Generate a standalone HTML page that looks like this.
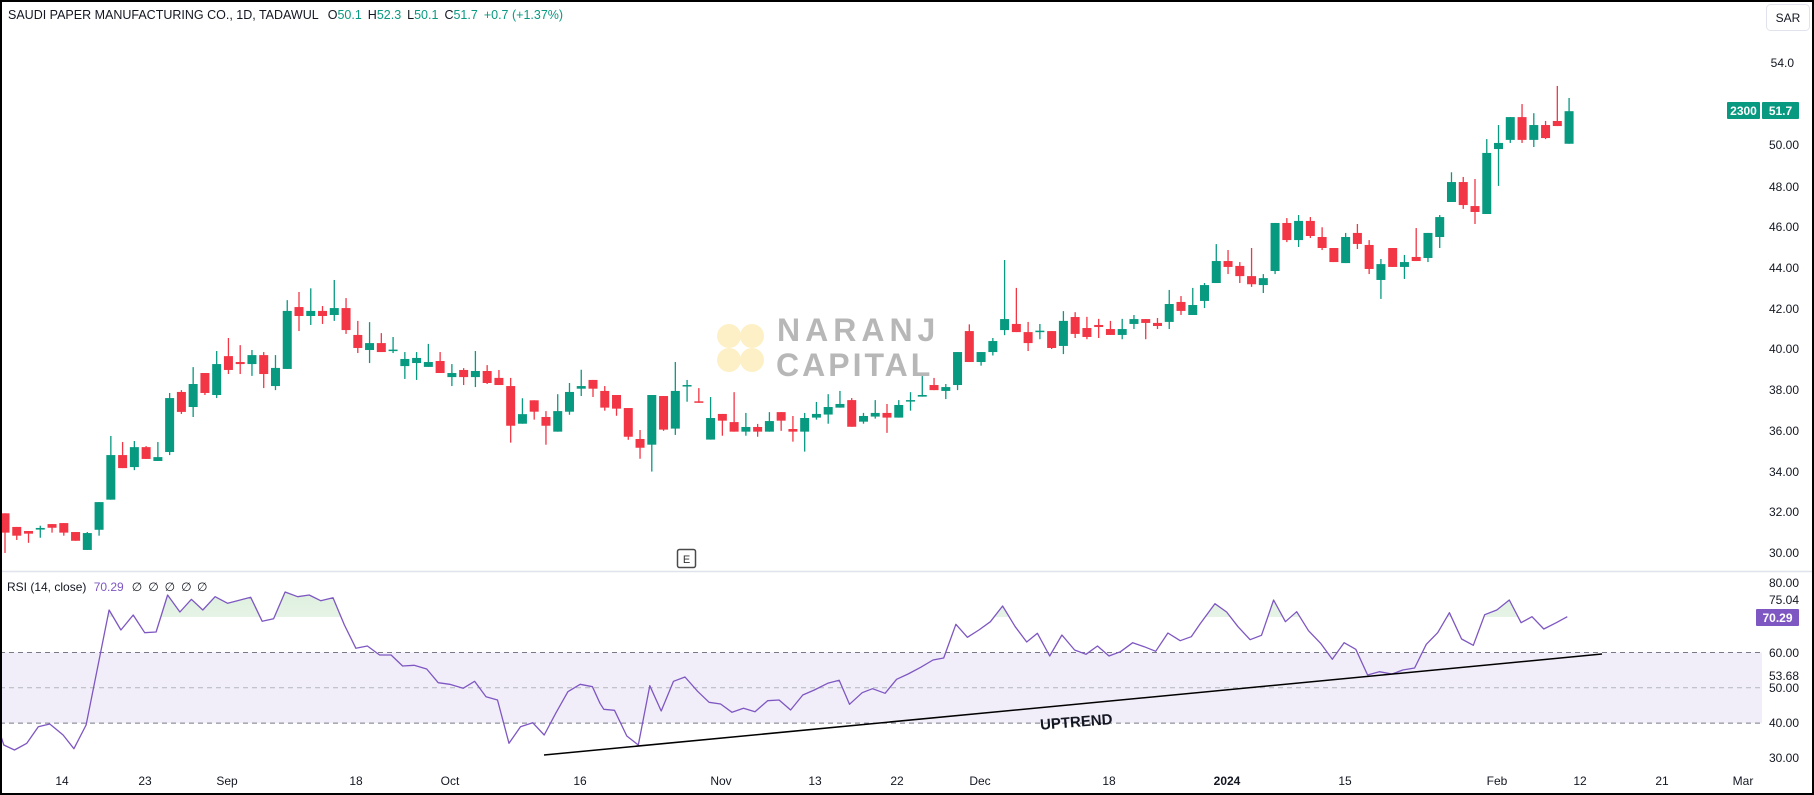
<!DOCTYPE html>
<html><head><meta charset="utf-8">
<style>
html,body{margin:0;padding:0;background:#fff;}
svg{display:block;}
text{font-family:"Liberation Sans","DejaVu Sans",sans-serif;}
</style></head>
<body>
<svg id="s" width="1814" height="795" viewBox="0 0 1814 795" xmlns="http://www.w3.org/2000/svg">
<rect x="0" y="0" width="1814" height="795" fill="#fff"/>
<defs>
<linearGradient id="gg" x1="0" y1="0" x2="0" y2="1"><stop offset="0" stop-color="#c8e6c9" stop-opacity="0.6"/><stop offset="1" stop-color="#e8f5e9" stop-opacity="0.05"/></linearGradient>
<clipPath id="above70"><rect x="0" y="560" width="1762" height="57"/></clipPath>
</defs>
<!-- watermark -->
<g opacity="0.9">
<circle cx="729" cy="336" r="12" fill="#fdefc0"/>
<circle cx="752" cy="336" r="12" fill="#fdefc0"/>
<circle cx="729" cy="360" r="12" fill="#fdefc0"/>
<circle cx="752" cy="360" r="12" fill="#fdefc0"/>
<text x="777" y="341" font-size="32" font-weight="bold" fill="#b0b0b0" letter-spacing="5">NARANJ</text>
<text x="776" y="376" font-size="32" font-weight="bold" fill="#b0b0b0" letter-spacing="3">CAPITAL</text>
</g>
<!-- RSI band -->
<rect x="0" y="652.5" width="1762" height="70.6" fill="#7e57c2" fill-opacity="0.1"/>
<line x1="0" y1="652.5" x2="1762" y2="652.5" stroke="#787b86" stroke-dasharray="5,4"/>
<line x1="0" y1="687.8" x2="1762" y2="687.8" stroke="#b2b5be" stroke-dasharray="5,4"/>
<line x1="0" y1="723.1" x2="1762" y2="723.1" stroke="#787b86" stroke-dasharray="5,4"/>
<line x1="0" y1="571.5" x2="1814" y2="571.5" stroke="#e0e3eb" stroke-width="1.5"/>
<g id="candles"></g>
<g id="rsi"></g>
<!-- uptrend -->
<line x1="544" y1="755" x2="1602" y2="654" stroke="#000" stroke-width="1.5"/>
<text x="1040" y="727" font-size="15" font-weight="bold" fill="#131722" transform="rotate(-4.5 1075 722)">UPTREND</text>
<!-- E marker -->
<rect x="677.5" y="549.5" width="18" height="18" rx="2" fill="#fff" stroke="#4a4a4a" stroke-width="1.5"/>
<text x="686.5" y="563" font-size="11" fill="#333" text-anchor="middle">E</text>
<!-- title -->
<text x="8" y="19" font-size="12.5" fill="#131722">SAUDI PAPER MANUFACTURING CO., 1D, TADAWUL <tspan dx="6">O</tspan><tspan fill="#089981">50.1</tspan><tspan dx="6">H</tspan><tspan fill="#089981">52.3</tspan><tspan dx="6">L</tspan><tspan fill="#089981">50.1</tspan><tspan dx="6">C</tspan><tspan fill="#089981">51.7</tspan><tspan dx="6" fill="#089981">+0.7 (+1.37%)</tspan></text>
<!-- RSI legend -->
<text x="7" y="591" font-size="12" fill="#131722">RSI (14, close) <tspan dx="4" fill="#7e57c2">70.29</tspan><tspan dx="8">∅</tspan><tspan dx="6">∅</tspan><tspan dx="6">∅</tspan><tspan dx="6">∅</tspan><tspan x="197">∅</tspan></text>
<!-- SAR box -->
<rect x="1766.5" y="4.5" width="43" height="26" rx="4" fill="#fff" stroke="#e0e3eb"/>
<text x="1788" y="22" font-size="12" fill="#131722" text-anchor="middle">SAR</text>
<!-- price axis -->
<g font-size="12" fill="#131722" text-anchor="end">
<text x="1794" y="67">54.0</text>
<text x="1799" y="149">50.00</text>
<text x="1799" y="191">48.00</text>
<text x="1799" y="231">46.00</text>
<text x="1799" y="272">44.00</text>
<text x="1799" y="313">42.00</text>
<text x="1799" y="353">40.00</text>
<text x="1799" y="394">38.00</text>
<text x="1799" y="435">36.00</text>
<text x="1799" y="476">34.00</text>
<text x="1799" y="516">32.00</text>
<text x="1799" y="557">30.00</text>
<text x="1799" y="587">80.00</text>
<text x="1799" y="604">75.04</text>
<text x="1799" y="657">60.00</text>
<text x="1799" y="680">53.68</text>
<text x="1799" y="692">50.00</text>
<text x="1799" y="727">40.00</text>
<text x="1799" y="762">30.00</text>
</g>
<rect x="1727" y="102" width="33" height="17" rx="1" fill="#089981"/>
<rect x="1762" y="102" width="37" height="17" rx="1" fill="#089981"/>
<text x="1743.5" y="115" font-size="12" fill="#fff" text-anchor="middle" font-weight="bold">2300</text>
<text x="1780.5" y="115" font-size="12" fill="#fff" text-anchor="middle" font-weight="bold">51.7</text>
<rect x="1756" y="609" width="43" height="17" rx="1" fill="#7e57c2"/>
<text x="1777.5" y="622" font-size="12" fill="#fff" text-anchor="middle" font-weight="bold">70.29</text>
<!-- date axis -->
<g font-size="12" fill="#131722" text-anchor="middle">
<text x="62" y="785">14</text><text x="145" y="785">23</text><text x="227" y="785">Sep</text>
<text x="356" y="785">18</text><text x="450" y="785">Oct</text><text x="580" y="785">16</text>
<text x="721" y="785">Nov</text><text x="815" y="785">13</text><text x="897" y="785">22</text>
<text x="980" y="785">Dec</text><text x="1109" y="785">18</text><text x="1227" y="785" font-weight="bold">2024</text>
<text x="1345" y="785">15</text><text x="1497" y="785">Feb</text><text x="1580" y="785">12</text>
<text x="1662" y="785">21</text><text x="1743" y="785">Mar</text>
</g>
<rect x="1" y="1" width="1812" height="793" fill="none" stroke="#000" stroke-width="2"/>
</svg>
<script>
var D=[[31.95,31.95,30.0,31.0],[31.28,31.28,30.64,30.85],[31.08,31.08,30.5,30.95],[31.15,31.34,30.75,31.23],[31.42,31.42,31.0,31.24],[31.47,31.47,30.85,31.0],[31.03,31.03,30.6,30.6],[30.15,31.03,30.15,30.98],[31.14,32.5,30.85,32.5],[32.62,35.75,32.62,34.81],
[34.81,35.45,34.17,34.17],[34.22,35.5,34.07,35.2],[35.2,35.25,34.62,34.62],[34.52,35.45,34.52,34.71],[34.96,37.86,34.81,37.61],[37.91,38.0,36.83,36.93],[37.17,39.13,36.68,38.3],[38.84,38.84,37.76,37.86],[37.76,39.92,37.61,39.28],[39.67,40.56,38.79,38.99],
[39.38,40.21,38.79,39.28],[39.28,39.97,38.7,39.72],[39.72,39.87,38.1,38.79],[38.2,39.72,38.0,39.09],[39.04,42.42,39.04,41.89],[42.08,42.82,40.9,41.64],[41.64,43.0,41.2,41.89],[41.89,42.13,41.25,41.64],[41.69,43.41,41.4,42.03],[42.03,42.52,40.76,40.95],
[40.71,41.4,39.82,40.07],[39.97,41.34,39.33,40.31],[40.31,40.8,39.87,39.87],[39.95,40.61,39.82,39.99],[39.18,39.87,38.55,39.53],[39.33,39.87,38.5,39.58],[39.14,40.27,39.14,39.38],[39.43,39.87,38.84,38.84],[38.64,39.28,38.2,38.84],[38.99,39.08,38.25,38.64],
[38.64,39.92,38.15,38.94],[38.94,39.23,38.3,38.35],[38.6,38.99,38.25,38.25],[38.2,38.6,35.42,36.25],[36.35,37.6,36.35,36.82],[37.5,37.5,36.55,36.94],[36.68,36.97,35.32,36.25],[35.96,37.8,35.96,36.97],[36.94,38.35,36.79,37.91],[38.07,39.0,37.71,38.2],
[38.5,38.5,37.66,38.07],[37.96,38.2,36.99,37.14],[37.76,37.76,36.74,37.09],[37.12,37.12,35.56,35.71],[35.6,36.04,34.63,35.17],[35.32,37.76,34.0,37.76],[37.71,37.71,36.0,36.06],[36.11,39.38,35.8,37.96],[38.19,38.5,37.43,38.25],[37.45,38.1,37.38,37.38],
[35.57,37.66,35.57,36.63],[36.83,36.83,35.76,36.5],[36.43,37.9,35.96,35.96],[35.96,36.88,35.76,36.19],[36.19,36.34,35.71,35.96],[35.96,36.92,35.96,36.48],[36.92,36.92,36.0,36.5],[36.09,36.73,35.47,35.96],[35.96,36.88,34.98,36.63],[36.65,37.42,36.55,36.83],
[36.8,37.8,36.35,37.17],[37.14,37.96,37.14,37.32],[37.51,37.61,36.2,36.2],[36.45,36.88,36.35,36.73],[36.7,37.51,36.6,36.88],[36.88,37.32,35.9,36.65],[36.65,37.51,36.65,37.27],[37.48,37.9,36.99,37.51],[37.68,38.69,37.68,37.76],[38.25,38.6,38.0,38.0],
[37.96,38.3,37.56,38.15],[38.25,39.87,38.0,39.87],[40.9,41.23,39.38,39.38],[39.38,39.87,39.2,39.87],[39.87,40.56,39.7,40.41],[40.95,44.39,40.7,41.49],[41.25,43.02,40.85,40.85],[40.85,41.35,39.92,40.31],[40.89,41.25,40.5,40.92],[40.9,40.9,40.02,40.07],
[40.17,41.88,39.77,41.4],[41.59,41.83,40.56,40.76],[41.05,41.6,40.5,40.61],[41.2,41.5,40.56,41.1],[41.0,41.4,40.71,40.71],[40.71,41.5,40.5,41.0],[41.25,41.69,41.0,41.49],[41.49,41.49,40.5,41.3],[41.3,41.54,41.0,41.15],[41.35,42.92,41.0,42.23],
[42.33,42.62,41.69,41.89],[41.69,43.02,41.69,42.18],[42.38,43.26,42.03,43.16],[43.26,45.17,43.26,44.34],[44.34,44.88,43.7,44.05],[44.1,44.29,43.26,43.6],[43.6,44.98,43.07,43.2],[43.16,43.7,42.77,43.5],[43.85,46.21,43.7,46.21],[46.21,46.45,45.27,45.37],
[45.37,46.6,45.03,46.31],[46.31,46.5,45.47,45.57],[45.52,46.0,44.88,44.98],[44.98,44.98,44.29,44.29],[44.24,45.72,44.24,45.52],[45.72,46.16,44.93,45.18],[45.13,45.37,43.7,43.95],[43.41,44.44,42.48,44.19],[44.98,44.98,44.05,44.05],[44.05,44.64,43.46,44.29],
[44.54,45.96,44.34,44.34],[44.49,45.72,44.29,45.72],[45.52,46.6,44.98,46.5],[47.24,48.7,47.24,48.22],[48.22,48.47,46.9,47.09],[47.04,48.37,46.16,46.75],[46.65,50.33,46.65,49.65],[49.84,51.02,48.03,50.14],[50.29,51.41,50.14,51.41],[51.41,52.05,50.14,50.29],
[50.29,51.6,49.94,51.02],[51.02,51.22,50.33,50.38],[51.22,52.94,50.97,50.97],[50.1,52.35,50.1,51.7]];
function py(p){return 145.8-(p-50)*20.36;}
var g=document.getElementById('candles'),h='';
for(var i=0;i<D.length;i++){var d=D[i],x=5+i*11.76,up=d[3]>=d[0],c=up?'#089981':'#f23645';
var t=py(Math.max(d[0],d[3])),b=py(Math.min(d[0],d[3]));if(b-t<1.5){b=t+1.5;}
h+='<line x1="'+x+'" x2="'+x+'" y1="'+py(d[1])+'" y2="'+py(d[2])+'" stroke="'+c+'" stroke-width="1.3"/>';
h+='<rect x="'+(x-4.5)+'" y="'+t+'" width="9" height="'+(b-t)+'" fill="'+c+'"/>';}
g.innerHTML=h;
var Z=[[0,[[0,520],[10,555],[38,570],[70,550],[100,500],[130,492],[165,525],[193,566],[225,495],[285,150],[316,210],[348,165],[378,218],[408,216],[438,105],[470,156],[500,118],[530,150],[562,110],[595,130],[655,112],[685,184],[715,176],[745,96],[778,110],[808,105],[838,122],[870,113],[900,195],[930,265],[960,258],[992,285],[1022,285],[1052,318],[1082,316],[1115,327],[1145,368],[1175,373],[1210,385],[1240,364],[1270,410],[1300,420],[1330,550],[1360,500],[1392,488],[1422,525],[1452,460],[1484,395],[1516,373],[1548,380]],2.613],
[600,[[0,430],[10,448],[38,451],[70,528],[100,555],[130,377],[160,453],[192,364],[222,351],[255,394],[285,427],[315,432],[345,457],[375,445],[405,455],[438,422],[468,420],[498,450],[530,405],[560,390],[595,370],[625,361],[652,433],[685,398],[712,386],[745,400],[775,358],[805,342],[838,322],[870,300],[898,294],[930,193],[960,232],[990,210],[1020,185],[1052,138],[1085,200],[1115,246],[1143,220],[1175,288],[1207,225],[1240,270],[1270,283],[1300,258],[1330,288],[1360,275],[1392,248],[1422,260],[1452,274],[1484,219],[1516,242],[1545,230]],2.613],
[1200,[[0,192],[38,131],[68,156],[97,200],[128,239],[157,226],[188,120],[218,185],[247,155],[277,212],[308,250],[338,298],[368,248],[398,268],[428,345],[458,335],[490,342],[518,330],[548,324],[578,253],[607,218],[637,158],[668,237],[698,256],[727,164],[758,150],[790,120],[820,188],[848,170],[878,207],[910,188],[938,170]],2.554]];
var pts=[];Z.forEach(function(z){z[1].forEach(function(p){pts.push([(z[0]+p[0]/z[2]).toFixed(1),(560+p[1]/3).toFixed(1)]);});});
var ps=pts.map(function(p){return p.join(',');}).join(' ');
var r=document.getElementById('rsi');
r.innerHTML='<polygon points="'+pts[0][0]+',617 '+ps+' '+pts[pts.length-1][0]+',617" fill="url(#gg)" clip-path="url(#above70)"/>'+
'<polyline points="'+ps+'" fill="none" stroke="#7e57c2" stroke-width="1.3" stroke-linejoin="round"/>';
</script>
</body></html>
